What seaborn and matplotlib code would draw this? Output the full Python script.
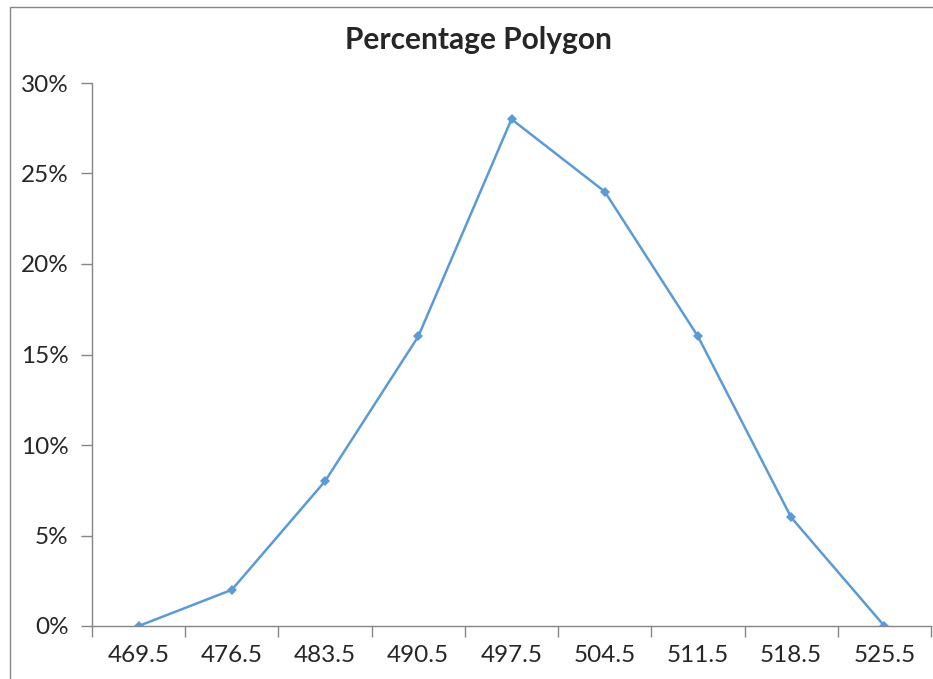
import pandas as pd
import matplotlib.pyplot as plt
import matplotlib.patches as patches
from matplotlib.ticker import PercentFormatter, FixedLocator
import seaborn as sns

# data
midpoints = ["469.5", "476.5", "483.5", "490.5", "497.5", "504.5", "511.5", "518.5", "525.5"]
percent = [0, 2, 8, 16, 28, 24, 16, 6, 0]

df = pd.DataFrame({"midpoint": midpoints, "percent": percent})

sns.set_style("white")
plt.rcParams["font.family"] = ["Lato", "DejaVu Sans"]

W, H = 933, 679
fig = plt.figure(figsize=(W / 100, H / 100), dpi=100)
ax = fig.add_axes([92 / W, (H - 626) / H, (931 - 92) / W, (626 - 83) / H])

sns.lineplot(x="midpoint", y="percent", data=df, ax=ax, color="#5B9BD5",
             linewidth=1.8, marker="D", markersize=5.5, markeredgewidth=0)

ax.set_xlim(-0.5, len(midpoints) - 0.5)
ax.set_ylim(0, 30)
ax.set_yticks([0, 5, 10, 15, 20, 25, 30])
ax.yaxis.set_major_formatter(PercentFormatter(decimals=0))
ax.set_xlabel("")
ax.set_ylabel("")

# category boundary ticks on x, no ticks at the labels
ax.xaxis.set_minor_locator(FixedLocator([i - 0.5 for i in range(len(midpoints) + 1)]))
ax.tick_params(axis="both", which="both", bottom=True, left=True)
ax.tick_params(axis="x", which="major", length=0, pad=14, labelsize=17.5)
ax.tick_params(axis="x", which="minor", length=8, color="#868686", width=1, direction="out")
ax.tick_params(axis="y", which="major", length=8, color="#868686", width=1,
               direction="out", pad=9, labelsize=17.5)
ax.tick_params(axis="y", which="minor", length=0)

for s in ["top", "right"]:
    ax.spines[s].set_visible(False)
for s in ["left", "bottom"]:
    ax.spines[s].set_color("#868686")
    ax.spines[s].set_linewidth(1)

fig.text(478 / W, 1 - 40 / H, "Percentage Polygon", ha="center", va="center",
         fontsize=21.5, fontweight="bold")

# chart area border
fig.add_artist(patches.Rectangle((10 / W, -0.01), 1.0, 1 - 7 / H + 0.01,
                                 transform=fig.transFigure, fill=False,
                                 edgecolor="#868686", linewidth=1))

fig.savefig("out.png", dpi=100)
